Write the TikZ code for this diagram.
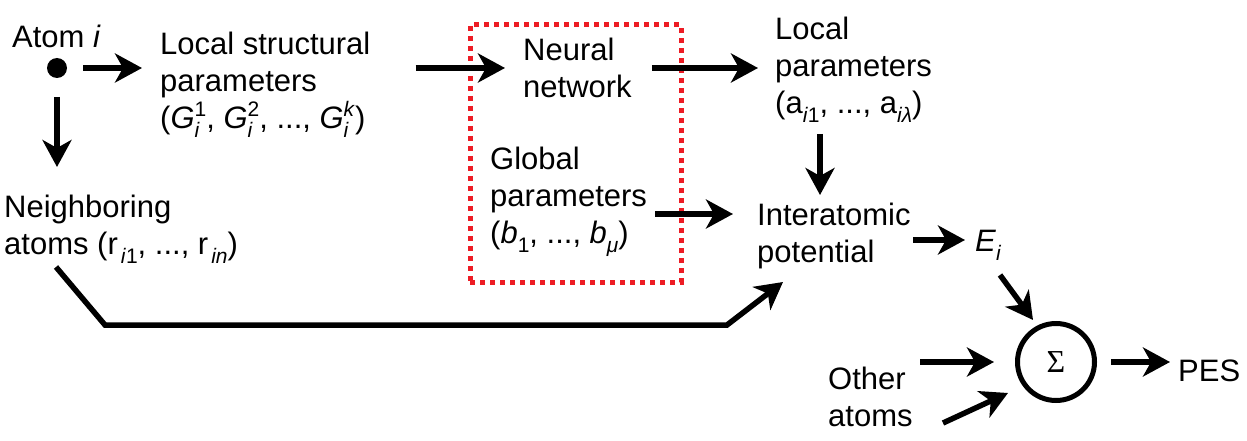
\documentclass[tikz,border=0pt]{standalone}
\usepackage{fontspec}
\setmainfont{Liberation Sans}
\newfontfamily\sigmafont{Liberation Serif}
\usetikzlibrary{arrows.meta,calc}
\definecolor{boxred}{RGB}{237,28,36}
\newcommand\subf{\fontsize{21}{21}\selectfont}
\newcommand\Sb[1]{\raisebox{-9pt}{\subf #1}}
\newlength\supsubwd
\newcommand\SupSub[2]{\setbox0=\hbox{\subf #1}\setbox2=\hbox{\subf #2}%
  \ifdim\wd0>\wd2 \supsubwd=\wd0 \else \supsubwd=\wd2 \fi
  \makebox[\supsubwd][l]{\rlap{\raisebox{12pt}{\box0}}\raisebox{-9pt}{\box2}}}
\tikzset{
  txt/.style={anchor=north west, inner sep=0pt, align=left, font=\fontsize{31}{37}\selectfont},
  arr/.style={line width=5.5pt, -{Stealth[length=27pt,width=29pt,inset=8pt]}},
}
\begin{document}
\begin{tikzpicture}[x=1pt,y=-1pt]
\useasboundingbox (0,0) rectangle (1247,441);
% text nodes
\node[txt] (atom) at (12,25) {Atom \textit{i}};
\node[circle, fill, inner sep=0pt, minimum size=20pt] (dot) at (57,68) {};
\node[txt] (lsp) at (160,32) {Local structural\\parameters\\(\textit{G}\SupSub{1}{\textit{i}}, \textit{G}\SupSub{2}{\textit{i}}, ..., \textit{G}\SupSub{\textit{k}}{\textit{i}})};
\node[draw=boxred, line width=5pt, dash pattern=on 5pt off 5pt, minimum width=211pt, minimum height=257pt, inner sep=0pt] (nnbox) at (575.5,153.5) {};
\node[txt] (nn) at (523,38) {Neural\\network};
\node[txt] (gp) at (490,147) {Global\\parameters\\(\textit{b}\Sb{1}, ..., \textit{b}\Sb{\textit{μ}})};
\node[txt] (lp) at (775,17) {Local\\parameters\\(a\Sb{\textit{i}1}, ..., a\Sb{\textit{iλ}})};
\node[txt] (iap) at (757,203) {Interatomic\\potential};
\node[txt] (nb) at (4,195) {Neighboring\\atoms (r\hspace{3pt}\Sb{\textit{i}1}, ..., r\hspace{3pt}\Sb{\textit{in}})};
\node[txt] (ei) at (975,230) {\textit{E}\Sb{\textit{i}}};
\node[circle, draw, line width=5pt, minimum size=77pt, inner sep=0pt] (sum) at (1056,362) {\sigmafont\fontsize{32}{32}\selectfont Σ};
\node[txt] (oa) at (828,367) {Other\\atoms};
\node[txt] (pes) at (1178,360) {PES};
% connectors
\draw[arr] ($(dot)+(26,0)$) -- ($(lsp.west |- dot)+(-18,0)$);
\draw[arr] ($(dot)+(0,29)$) -- ($(nb.north -| dot)+(0,-28)$);
\draw[arr] ($(lsp.east |- dot)+(45,0)$) -- ($(nn.west |- dot)+(-18,0)$);
\draw[arr] ($(nn.east |- dot)+(20,0)$) -- ($(lp.west |- dot)+(-17,0)$);
\draw[arr] ($(lp.south west)+(45,11)$) -- ($(iap.north west)+(63,-8)$);
\draw[arr] ($(iap.north west)+(-102,11)$) -- ($(iap.north west)+(-24,11)$);
\draw[arr] ($(iap.north west)+(156,37)$) -- ($(ei.north west)+(-10,10)$);
\draw[arr] ($(ei.north west)+(25,45)$) -- ($(sum)+(-23,-42)$);
\draw[arr] ($(sum.west)+(-95,0)$) -- ($(sum.west)+(-21,0)$);
\draw[arr] ($(sum)+(-113,61)$) -- ($(sum)+(-48,31)$);
\draw[arr] ($(sum.east)+(14,0)$) -- ($(pes.west |- sum)+(-8,0)$);
\draw[arr] ($(nb.north west)+(52,72)$) -- ($(nb.north west)+(101,130)$) -- ($(iap.north west)+(-30,122)$) -- ($(iap.north west)+(26,79)$);
\end{tikzpicture}
\end{document}
